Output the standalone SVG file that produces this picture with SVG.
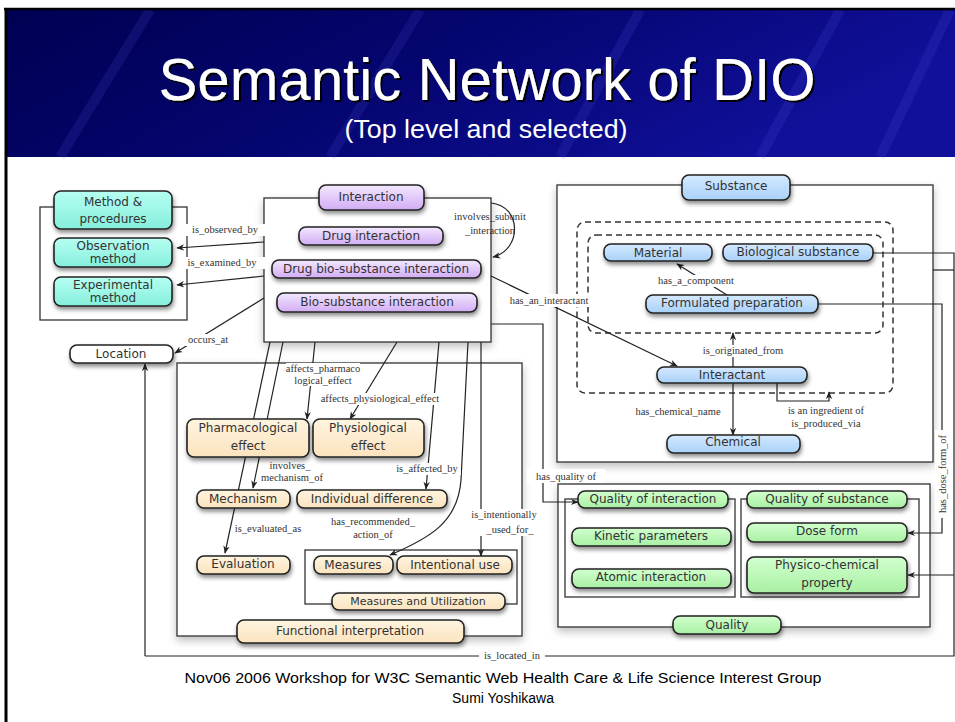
<svg xmlns="http://www.w3.org/2000/svg" width="955" height="722" viewBox="0 0 955 722">
<defs>
<linearGradient id="band" x1="0" y1="0" x2="1" y2="0.3">
<stop offset="0" stop-color="#000052"/><stop offset="0.5" stop-color="#050570"/><stop offset="1" stop-color="#10109a"/>
</linearGradient>
<linearGradient id="gTeal" x1="0" y1="0" x2="0" y2="1"><stop offset="0" stop-color="#b6fff2"/><stop offset="1" stop-color="#85eedc"/></linearGradient>
<linearGradient id="gPurple" x1="0" y1="0" x2="0" y2="1"><stop offset="0" stop-color="#f3e8ff"/><stop offset="1" stop-color="#d2acf4"/></linearGradient>
<linearGradient id="gBlue" x1="0" y1="0" x2="0" y2="1"><stop offset="0" stop-color="#d4e9ff"/><stop offset="1" stop-color="#a9d1f8"/></linearGradient>
<linearGradient id="gBeige" x1="0" y1="0" x2="0" y2="1"><stop offset="0" stop-color="#fff4e0"/><stop offset="1" stop-color="#fbe3bd"/></linearGradient>
<linearGradient id="gGreen" x1="0" y1="0" x2="0" y2="1"><stop offset="0" stop-color="#d2ffcf"/><stop offset="1" stop-color="#a8f0a3"/></linearGradient>
<filter id="sh" x="-20%" y="-30%" width="140%" height="180%"><feDropShadow dx="1" dy="3" stdDeviation="2" flood-color="#000" flood-opacity="0.45"/></filter>
<filter id="bsh" x="-5%" y="-5%" width="110%" height="115%"><feDropShadow dx="0" dy="4" stdDeviation="4" flood-color="#000" flood-opacity="0.25"/></filter>
<filter id="tsh"><feDropShadow dx="2" dy="2" stdDeviation="0.3" flood-color="#000" flood-opacity="1"/></filter>
<marker id="arr" viewBox="0 0 10 10" refX="9" refY="5" markerWidth="8" markerHeight="8" markerUnits="userSpaceOnUse" orient="auto">
<path d="M0,1 L10,5 L0,9 L3,5 z" fill="#222"/>
</marker>
</defs>
<style>
.box{fill:#fff;stroke:#333;stroke-width:1.3}
.dash{fill:none;stroke:#333;stroke-width:1.5;stroke-dasharray:6 4}
.node rect{stroke:#222;stroke-width:1.6;filter:url(#sh)}
.node text{font-family:"DejaVu Sans","Liberation Sans",sans-serif;font-size:12px;fill:#333;text-anchor:middle}
.teal rect{fill:url(#gTeal)}
.purple rect{fill:url(#gPurple)}
.blue rect{fill:url(#gBlue)}
.beige rect{fill:url(#gBeige)}
.green rect{fill:url(#gGreen)}
.white rect{fill:#fff}
.edge{fill:none;stroke:#222;stroke-width:1.2}
.arr{marker-end:url(#arr)}
.lbl{font-family:"Liberation Serif",serif;font-size:10.5px;fill:#333;text-anchor:middle}
.lbg{fill:#fff}
</style>
<rect width="955" height="722" fill="#fff"/>
<!-- header band -->
<rect x="5" y="10" width="950" height="147" fill="url(#band)"/>
<g opacity="0.12" stroke="#6a6aff" stroke-width="10">
<line x1="60" y1="157" x2="150" y2="10"/><line x1="330" y1="157" x2="420" y2="10"/><line x1="560" y1="157" x2="640" y2="10"/><line x1="760" y1="157" x2="840" y2="10"/><line x1="880" y1="157" x2="950" y2="10"/>
</g>
<line x1="4" y1="9" x2="955" y2="9" stroke="#000" stroke-width="2.5"/>
<line x1="6" y1="9" x2="6" y2="722" stroke="#000" stroke-width="3"/>
<text x="487" y="100" font-family="Liberation Sans,Arial,sans-serif" font-size="60" fill="#fff" text-anchor="middle" textLength="657" lengthAdjust="spacingAndGlyphs" filter="url(#tsh)">Semantic Network of DIO</text>
<text x="486" y="138" font-family="Liberation Sans,Arial,sans-serif" font-size="25" fill="#fff" text-anchor="middle" textLength="283" lengthAdjust="spacingAndGlyphs">(Top level and selected)</text>

<!-- container boxes -->
<g id="containers">
<rect class="box" x="40" y="207" width="147" height="113"/>
<rect class="box" x="177" y="363" width="345" height="273" filter="url(#bsh)"/>
<rect class="box" x="264" y="198" width="227" height="144" filter="url(#bsh)"/>
<rect class="box" x="557" y="185" width="376" height="277" filter="url(#bsh)"/>
<rect class="dash" x="577" y="222" width="316" height="171" rx="8"/>
<rect class="dash" x="588" y="235" width="295" height="98" rx="8"/>
<rect class="box" x="558" y="484" width="372" height="143" filter="url(#bsh)"/>
<rect class="box" x="565" y="499" width="170" height="98"/>
<rect class="box" x="741" y="499" width="178" height="98"/>
<rect class="box" x="305" y="550" width="212" height="54"/>
</g>

<!-- connectors -->
<g id="connectors">
<line class="edge arr" x1="264" y1="242" x2="177" y2="248"/>
<line class="edge arr" x1="264" y1="276" x2="177" y2="285"/>
<line class="edge arr" x1="264" y1="298" x2="175" y2="353"/>
<path class="edge arr" d="M491,203 C522,206 522,250 493,257"/>
<line class="edge arr" x1="491" y1="276" x2="677" y2="366"/>
<path class="edge arr" d="M491,324 H543 V502 H578"/>
<line class="edge arr" x1="270" y1="342" x2="225" y2="553"/>
<line class="edge arr" x1="283" y1="342" x2="253" y2="488"/>
<line class="edge arr" x1="315" y1="342" x2="307" y2="419"/>
<line class="edge arr" x1="397" y1="342" x2="350" y2="419"/>
<line class="edge arr" x1="439" y1="342" x2="426" y2="489"/>
<path class="edge arr" d="M468,342 L461,480 C458,522 430,538 390,555"/>
<line class="edge arr" x1="481" y1="342" x2="481" y2="556"/>
<line class="edge arr" x1="727" y1="295" x2="677" y2="264"/>
<line class="edge arr" x1="733" y1="367" x2="733" y2="333"/>
<line class="edge arr" x1="733" y1="383" x2="733" y2="435"/>
<path class="edge arr" d="M777,383 V401 H829 V392"/>
<path class="edge arr" d="M818,304 H942 V533 H908"/>
<path class="edge" d="M873,253 H954 V656 H145"/>
<line class="edge" x1="933" y1="270" x2="954" y2="270"/>
<line class="edge arr" x1="954" y1="575" x2="908" y2="575"/>
<line class="edge arr" x1="145" y1="656" x2="145" y2="364"/>
</g>

<!-- edge labels -->
<g id="edge-labels">
<rect class="lbg" x="183" y="224" width="84" height="12"/>
<text class="lbl" x="225" y="233">is_observed_by</text>
<rect class="lbg" x="180" y="257" width="86" height="12"/>
<text class="lbl" x="222" y="266">is_examined_by</text>
<rect class="lbg" x="182" y="334" width="52" height="12"/>
<text class="lbl" x="208" y="343">occurs_at</text>
<text class="lbl" x="490" y="220">involves_subunit</text>
<text class="lbl" x="490" y="234">_interaction</text>
<rect class="lbg" x="497" y="294" width="104" height="13"/>
<text class="lbl" x="549" y="304">has_an_interactant</text>
<rect class="lbg" x="527" y="469" width="78" height="14"/>
<text class="lbl" x="566" y="480">has_quality of</text>
<rect class="lbg" x="286" y="363" width="74" height="23"/>
<text class="lbl" x="323" y="372">affects_pharmaco</text>
<text class="lbl" x="323" y="384">logical_effect</text>
<rect class="lbg" x="322" y="393" width="116" height="12"/>
<text class="lbl" x="380" y="402">affects_physiological_effect</text>
<rect class="lbg" x="262" y="460" width="60" height="25"/>
<text class="lbl" x="290" y="469">involves_</text>
<text class="lbl" x="292" y="481">mechanism_of</text>
<rect class="lbg" x="393" y="463" width="68" height="12"/>
<text class="lbl" x="427" y="472">is_affected_by</text>
<rect class="lbg" x="232" y="523" width="72" height="12"/>
<text class="lbl" x="268" y="532">is_evaluated_as</text>
<rect class="lbg" x="330" y="516" width="86" height="25"/>
<text class="lbl" x="373" y="525">has_recommended_</text>
<text class="lbl" x="373" y="538">action_of</text>
<rect class="lbg" x="470" y="509" width="68" height="27"/>
<text class="lbl" x="504" y="518">is_intentionally</text>
<text class="lbl" x="510" y="533">_used_for_</text>
<rect class="lbg" x="655" y="275" width="82" height="12"/>
<text class="lbl" x="696" y="284">has_a_component</text>
<rect class="lbg" x="700" y="345" width="86" height="12"/>
<text class="lbl" x="743" y="354">is_originated_from</text>
<text class="lbl" x="678" y="415">has_chemical_name</text>
<text class="lbl" x="826" y="414">is  an  ingredient  of</text>
<text class="lbl" x="826" y="427">is_produced_via</text>
<rect class="lbg" x="935" y="430" width="14" height="88"/>
<text class="lbl" x="946" y="474" transform="rotate(-90 946 474)">has_dose_form_of</text>
<rect class="lbg" x="479" y="650" width="66" height="12"/>
<text class="lbl" x="512" y="659">is_located_in</text>
</g>

<!-- nodes -->
<g id="method-procedures" class="node teal"><rect x="54" y="191" width="118" height="38" rx="7"/><text x="113" y="206">Method &amp;</text><text x="113" y="223">procedures</text></g>
<g id="observation-method" class="node teal"><rect x="54" y="238" width="118" height="29" rx="7"/><text x="113" y="250">Observation</text><text x="113" y="263">method</text></g>
<g id="experimental-method" class="node teal"><rect x="54" y="277" width="118" height="29" rx="7"/><text x="113" y="289">Experimental</text><text x="113" y="302">method</text></g>
<g id="location" class="node white"><rect x="70" y="345" width="103" height="18" rx="7"/><text x="121" y="358">Location</text></g>

<g id="interaction" class="node purple"><rect x="319" y="185" width="105" height="25" rx="7"/><text x="371" y="201">Interaction</text></g>
<g id="drug-interaction" class="node purple"><rect x="299" y="227" width="144" height="18" rx="7"/><text x="371" y="240">Drug interaction</text></g>
<g id="drug-bio-substance-interaction" class="node purple"><rect x="272" y="260" width="209" height="18" rx="7"/><text x="376" y="273">Drug bio-substance interaction</text></g>
<g id="bio-substance-interaction" class="node purple"><rect x="277" y="293" width="200" height="19" rx="7"/><text x="377" y="306">Bio-substance interaction</text></g>

<g id="substance" class="node blue"><rect x="682" y="175" width="108" height="25" rx="7"/><text x="736" y="190">Substance</text></g>
<g id="material" class="node blue"><rect x="604" y="244" width="108" height="17" rx="7"/><text x="658" y="257">Material</text></g>
<g id="biological-substance" class="node blue"><rect x="723" y="244" width="150" height="17" rx="7"/><text x="798" y="256">Biological substance</text></g>
<g id="formulated-preparation" class="node blue"><rect x="646" y="295" width="172" height="18" rx="7"/><text x="732" y="307">Formulated preparation</text></g>
<g id="interactant" class="node blue"><rect x="657" y="367" width="150" height="16" rx="7"/><text x="732" y="379">Interactant</text></g>
<g id="chemical" class="node blue"><rect x="667" y="435" width="133" height="18" rx="7"/><text x="733" y="446">Chemical</text></g>

<g id="pharmacological-effect" class="node beige"><rect x="187" y="419" width="122" height="38" rx="7"/><text x="248" y="432">Pharmacological</text><text x="248" y="450">effect</text></g>
<g id="physiological-effect" class="node beige"><rect x="313" y="419" width="111" height="38" rx="7"/><text x="368" y="432">Physiological</text><text x="368" y="450">effect</text></g>
<g id="mechanism" class="node beige"><rect x="197" y="490" width="93" height="18" rx="7"/><text x="243" y="503">Mechanism</text></g>
<g id="individual-difference" class="node beige"><rect x="297" y="490" width="150" height="18" rx="7"/><text x="372" y="503">Individual difference</text></g>
<g id="evaluation" class="node beige"><rect x="197" y="556" width="93" height="18" rx="7"/><text x="243" y="568">Evaluation</text></g>
<g id="measures" class="node beige"><rect x="314" y="556" width="79" height="18" rx="7"/><text x="353" y="569">Measures</text></g>
<g id="intentional-use" class="node beige"><rect x="397" y="556" width="115" height="18" rx="7"/><text x="455" y="569">Intentional use</text></g>
<g id="measures-utilization" class="node beige"><rect x="332" y="593" width="173" height="17" rx="7"/><text x="418" y="605" style="font-size:11px">Measures and Utilization</text></g>
<g id="functional-interpretation" class="node beige"><rect x="237" y="620" width="227" height="23" rx="7"/><text x="350" y="635">Functional interpretation</text></g>

<g id="quality-of-interaction" class="node green"><rect x="578" y="491" width="150" height="17" rx="7"/><text x="653" y="503">Quality of interaction</text></g>
<g id="quality-of-substance" class="node green"><rect x="747" y="491" width="160" height="17" rx="7"/><text x="827" y="503">Quality of substance</text></g>
<g id="kinetic-parameters" class="node green"><rect x="572" y="528" width="159" height="18" rx="7"/><text x="651" y="540">Kinetic parameters</text></g>
<g id="atomic-interaction" class="node green"><rect x="572" y="569" width="159" height="19" rx="7"/><text x="651" y="581">Atomic interaction</text></g>
<g id="dose-form" class="node green"><rect x="747" y="523" width="160" height="19" rx="7"/><text x="827" y="535">Dose form</text></g>
<g id="physico-chemical-property" class="node green"><rect x="747" y="557" width="160" height="36" rx="7"/><text x="827" y="569">Physico-chemical</text><text x="827" y="587">property</text></g>
<g id="quality" class="node green"><rect x="673" y="616" width="108" height="18" rx="7"/><text x="727" y="629">Quality</text></g>

<!-- footer -->
<text x="503" y="683" font-family="Liberation Sans,Arial,sans-serif" font-size="14" fill="#000" text-anchor="middle" textLength="637" lengthAdjust="spacingAndGlyphs">Nov06 2006 Workshop for W3C Semantic Web Health Care &amp; Life Science Interest Group</text>
<text x="503" y="703" font-family="Liberation Sans,Arial,sans-serif" font-size="14" fill="#000" text-anchor="middle">Sumi Yoshikawa</text>
</svg>
